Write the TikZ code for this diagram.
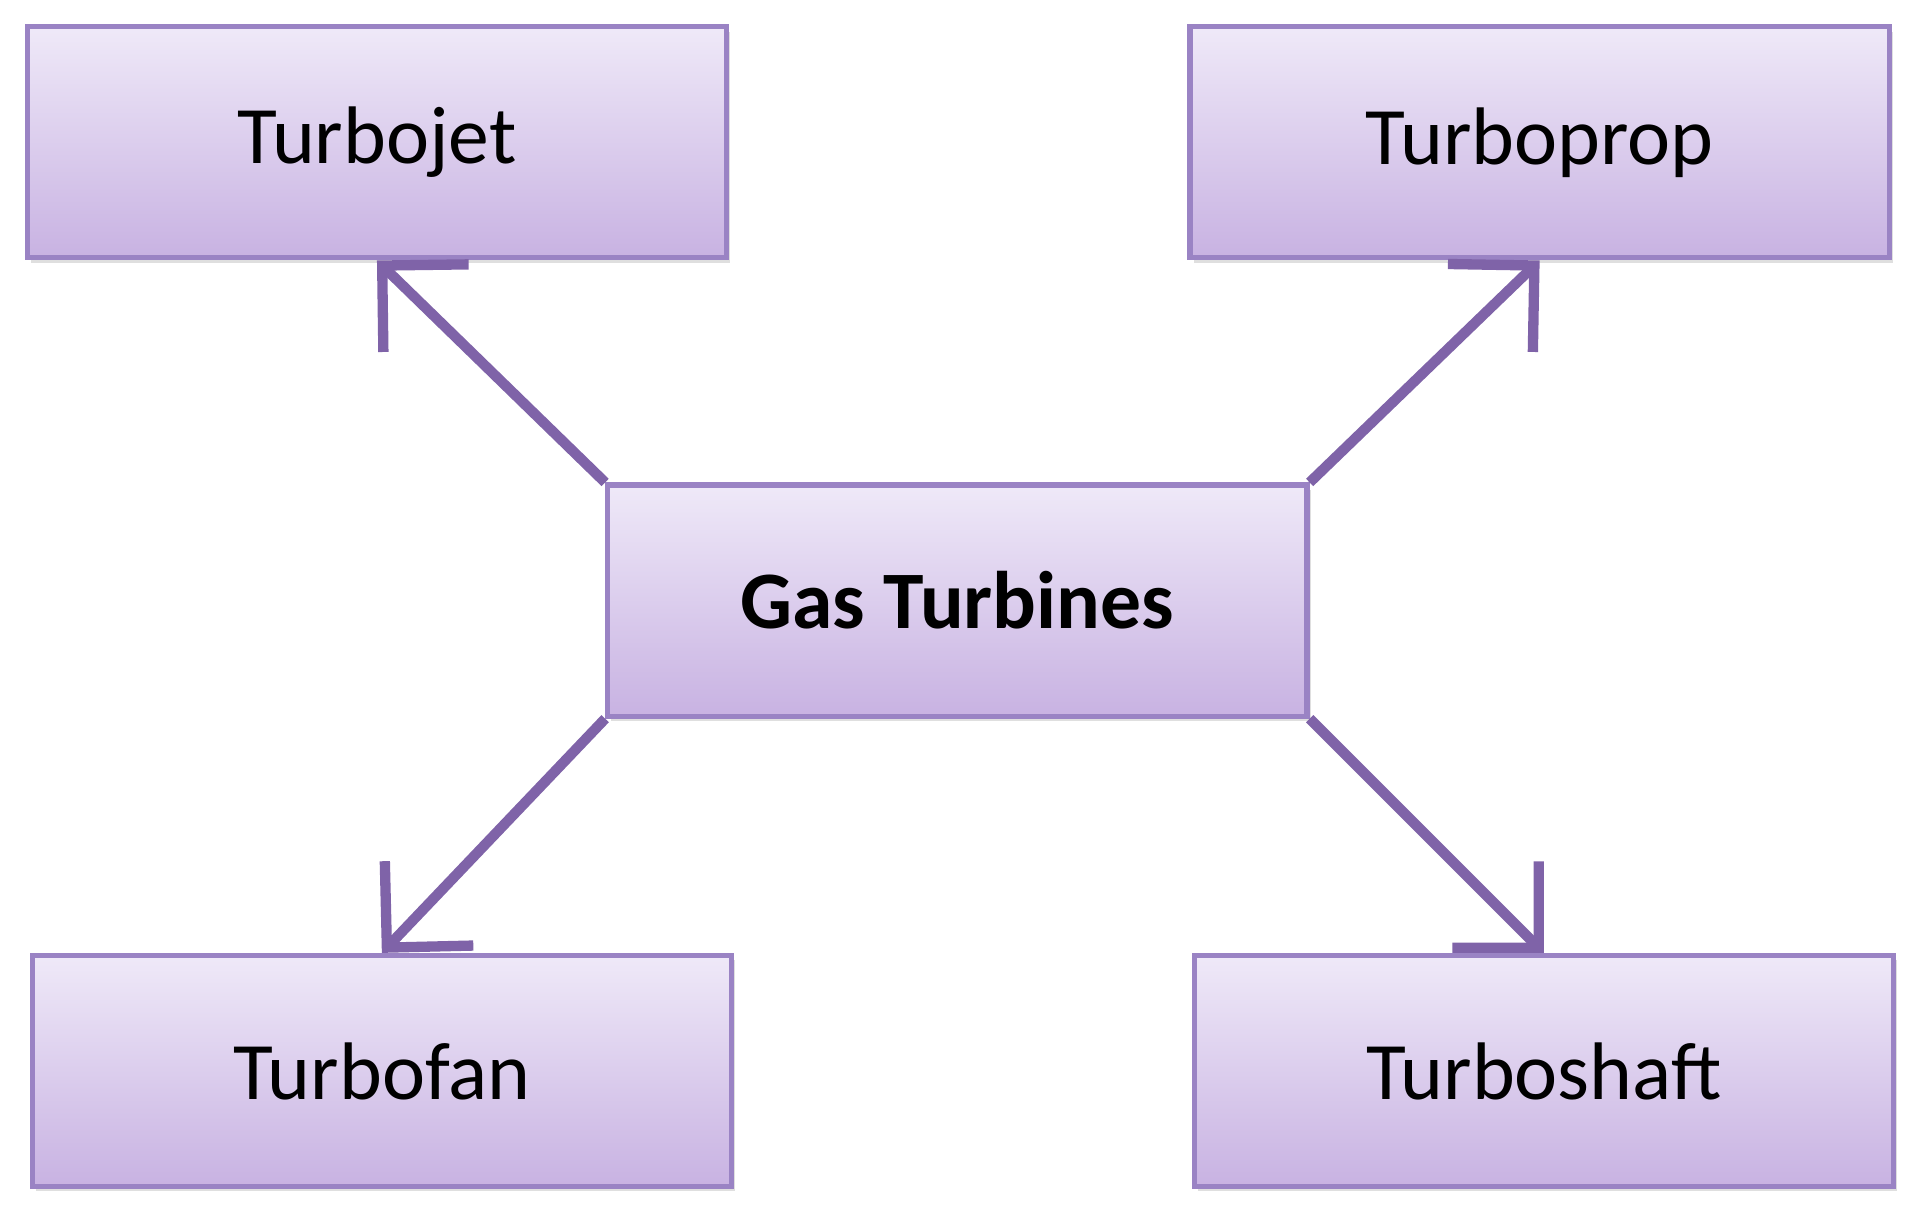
\documentclass[tikz,border=0pt]{standalone}
\usepackage{fontspec}
\setmainfont{Carlito}
\usetikzlibrary{arrows.meta,shadows}
\definecolor{topc}{HTML}{EFE9F8}
\definecolor{botc}{HTML}{C8B2E2}
\definecolor{bord}{HTML}{9A83C4}
\definecolor{arr}{HTML}{7F63A8}
\begin{document}
\begin{tikzpicture}[x=0.01cm,y=-0.01cm,
  box/.style={draw=bord,line width=1.2pt,top color=topc,bottom color=botc,
    minimum width=5.72cm,minimum height=1.89cm,font=\fontsize{19}{22}\selectfont,
    drop shadow={shadow xshift=0.3mm,shadow yshift=-0.4mm,opacity=0.25}},
  conn/.style={draw=arr,line width=2.4pt,-{Straight Barb[length=5mm,width=10mm,line width=2.4pt]}}]
\useasboundingbox (0,0) rectangle (1568,998);
\node[box] (c) at (783.5,491.5) {\textbf{Gas Turbines}};
\node[box] (tj) at (308.5,116.5) {Turbojet};
\node[box] (tp) at (1260,116.5) {Turboprop};
\node[box] (tf) at (312.5,876.5) {Turbofan};
\node[box] (ts) at (1263.5,876.5) {Turboshaft};
\draw[conn] (c.north west) -- (tj.south);
\draw[conn] (c.north east) -- (tp.south);
\draw[conn] (c.south west) -- (tf.north);
\draw[conn] (c.south east) -- (ts.north);
\end{tikzpicture}
\end{document}
